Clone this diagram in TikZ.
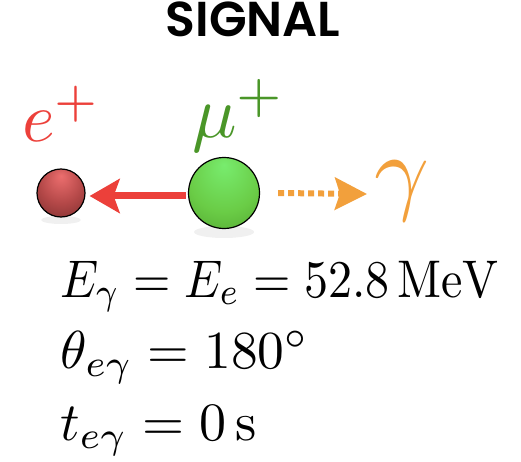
\documentclass[tikz,border=0pt]{standalone}
\usepackage{fontspec}
\newfontfamily\titlefont{Poppins}[BoldFont={* SemiBold}]
\usetikzlibrary{arrows.meta,calc}
\definecolor{posred}{RGB}{236,64,58}
\definecolor{mugreen}{RGB}{74,150,40}
\definecolor{gamorange}{RGB}{242,160,60}
\definecolor{ehi}{RGB}{236,110,110}
\definecolor{emid}{RGB}{180,72,72}
\definecolor{erim}{RGB}{110,40,40}
\definecolor{muhi}{RGB}{120,236,110}
\definecolor{mumid}{RGB}{106,204,70}
\definecolor{murim}{RGB}{72,150,40}
\pgfdeclareradialshading{eshade}{\pgfpoint{0bp}{18bp}}{color(0bp)=(ehi); color(22bp)=(emid); color(46bp)=(erim); color(60bp)=(erim)}
\pgfdeclareradialshading{mushade}{\pgfpoint{0bp}{20bp}}{color(0bp)=(muhi); color(25bp)=(mumid); color(50bp)=(murim); color(60bp)=(murim)}
\tikzset{
  ballstyle/.style={circle, draw=black, line width=1.2pt, inner sep=0pt},
  lbl/.style={inner sep=0pt, anchor=base west},
}
\begin{document}
\begin{tikzpicture}[x=1pt,y=-1pt]
\useasboundingbox (0,0) rectangle (521,462);
\node[inner sep=0pt, anchor=base, font=\titlefont\bfseries\fontsize{49}{52}\selectfont] (title) at (253,37) {SIGNAL};
% shadows
\fill[gray!12] (224,232) ellipse (30 and 6);
\fill[gray!12] (61,220) ellipse (20 and 4);
\node[ballstyle, minimum size=48pt, shading=eshade] (e) at (61,193) {};
\node[ballstyle, minimum size=71pt, shading=mushade] (mu) at (224,193) {};
\coordinate (gtip) at (367,194);
\draw[posred, line width=7pt, -{Stealth[length=30pt,width=34pt,inset=6pt]}] ($(mu.west)+(-2,3)$) -- ($(e.east)+(4,3)$);
\draw[gamorange, line width=6pt, dash pattern=on 6pt off 4pt, -{Stealth[length=32pt,width=32pt,inset=5pt]}] ($(mu.east)+(18,0)$) -- (gtip);
\node[lbl, posred] (elbl) at (22,142) {\scalebox{7.0}{$e^+$}};
\node[lbl, mugreen] (mulbl) at (192,138) {\scalebox{7.4}{$\mu^+$}};
\node[lbl, gamorange] (glbl) at (374,203) {\scalebox{9.6}{$\gamma$}};
\node[lbl] (eq1) at (60,297) {\scalebox{4.8}[5.3]{$E_\gamma = E_e = 52.8\,\mathrm{MeV}$}};
\node[lbl] (eq2) at (60,368) {\scalebox{5.35}{$\theta_{e\gamma} = 180^\circ$}};
\node[lbl] (eq3) at (60,440) {\scalebox{5.4}{$t_{e\gamma} = 0\,\mathrm{s}$}};
\end{tikzpicture}
\end{document}
